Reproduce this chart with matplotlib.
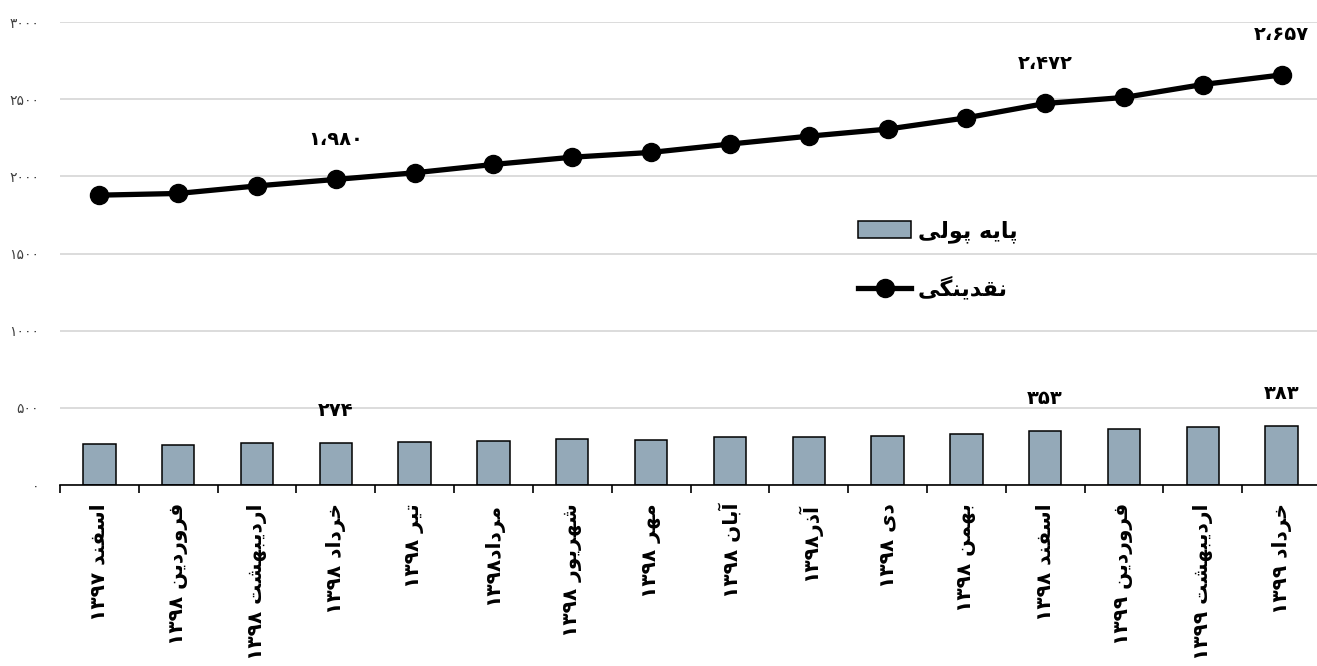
import numpy as np
import matplotlib
matplotlib.use('Agg')
import matplotlib.pyplot as plt
from matplotlib.lines import Line2D
from matplotlib.patches import Patch

plt.rcParams.update({'font.family': 'DejaVu Sans'})

# ── data ──
months = ['اسفند ۱۳۹۷', 'فروردین ۱۳۹۸', 'اردیبهشت ۱۳۹۸', 'خرداد ۱۳۹۸', 'تیر ۱۳۹۸',
          'مرداد۱۳۹۸', 'شهریور ۱۳۹۸', 'مهر ۱۳۹۸', 'آبان ۱۳۹۸', 'آذر۱۳۹۸', 'دی ۱۳۹۸',
          'بهمن ۱۳۹۸', 'اسفند ۱۳۹۸', 'فروردین ۱۳۹۹', 'اردیبهشت ۱۳۹۹', 'خرداد ۱۳۹۹']
base_money = [264, 261, 272, 274, 278, 287, 296, 293, 308, 312, 315, 328, 353, 362, 373, 383]
liquidity = [1878, 1889, 1938, 1980, 2023, 2077, 2124, 2155, 2209, 2260, 2306, 2379,
             2472, 2511, 2595, 2657]
labelled = [3, 12, 15]
yticks = [0, 500, 1000, 1500, 2000, 2500, 3000]
legend_labels = ['پایه پولی', 'نقدینگی']

BAR_COLOR = '#94A9B8'

# ── minimal Persian shaping (no raqm in matplotlib) ──
# (isolated, final, initial, medial) presentation forms
FORMS = {
    'ا': (0xFE8D, 0xFE8E, None, None),
    'آ': (0xFE81, 0xFE82, None, None),
    'ب': (0xFE8F, 0xFE90, 0xFE91, 0xFE92),
    'پ': (0xFB56, 0xFB57, 0xFB58, 0xFB59),
    'ت': (0xFE95, 0xFE96, 0xFE97, 0xFE98),
    'خ': (0xFEA5, 0xFEA6, 0xFEA7, 0xFEA8),
    'د': (0xFEA9, 0xFEAA, None, None),
    'ذ': (0xFEAB, 0xFEAC, None, None),
    'ر': (0xFEAD, 0xFEAE, None, None),
    'س': (0xFEB1, 0xFEB2, 0xFEB3, 0xFEB4),
    'ش': (0xFEB5, 0xFEB6, 0xFEB7, 0xFEB8),
    'ف': (0xFED1, 0xFED2, 0xFED3, 0xFED4),
    'ق': (0xFED5, 0xFED6, 0xFED7, 0xFED8),
    'گ': (0xFB92, 0xFB93, 0xFB94, 0xFB95),
    'ل': (0xFEDD, 0xFEDE, 0xFEDF, 0xFEE0),
    'م': (0xFEE1, 0xFEE2, 0xFEE3, 0xFEE4),
    'ن': (0xFEE5, 0xFEE6, 0xFEE7, 0xFEE8),
    'ه': (0xFEE9, 0xFEEA, 0xFEEB, 0xFEEC),
    'و': (0xFEED, 0xFEEE, None, None),
    'ی': (0xFBFC, 0xFBFD, 0xFBFE, 0xFBFF),
}
FA_DIGITS = '۰۱۲۳۴۵۶۷۸۹'


def fa_num(v, sep=False):
    s = f'{v:,}' if sep else str(v)
    return ''.join(FA_DIGITS[int(c)] if c.isdigit() else '،' for c in s)


def shape(text):
    out = []
    for i, ch in enumerate(text):
        if ch not in FORMS:
            out.append(ch)
            continue
        iso, fin, ini, med = FORMS[ch]
        prev = text[i - 1] if i > 0 else ''
        nxt = text[i + 1] if i + 1 < len(text) else ''
        jp = prev in FORMS and FORMS[prev][2] is not None
        jn = ini is not None and nxt in FORMS
        code = med if (jp and jn) else fin if jp else ini if jn else iso
        out.append(chr(code))
    # digit runs stay left-to-right, the rest is reversed
    runs = []
    for ch in out:
        ltr = ch in FA_DIGITS or ch == '،'
        if runs and runs[-1][0] == ltr:
            runs[-1][1] += ch
        else:
            runs.append([ltr, ch])
    return ''.join(r if ltr else r[::-1] for ltr, r in reversed(runs))


# ── figure ──
W, H = 1317, 666
fig = plt.figure(figsize=(W / 100, H / 100), dpi=100)
ax = fig.add_axes([60 / W, 1 - 485 / H, 1261 / W, 463 / H])

x = np.arange(len(months))
ax.bar(x, base_money, width=0.41, color=BAR_COLOR, edgecolor='black',
       linewidth=1.1, zorder=2)
ax.plot(x, liquidity, color='black', lw=3.8, marker='o', ms=13, zorder=3)

for i in labelled:
    ax.annotate(fa_num(liquidity[i], True), (x[i], liquidity[i]), xytext=(0, 40),
                textcoords='offset pixels', ha='center', va='center',
                fontsize=14, fontweight='bold')
    ax.annotate(fa_num(base_money[i]), (x[i], base_money[i]), xytext=(0, 32),
                textcoords='offset pixels', ha='center', va='center',
                fontsize=14, fontweight='bold')

ax.set_xlim(-0.5, len(months) - 0.5)
ax.set_ylim(0, 3000)
ax.set_yticks(yticks)
ax.set_yticklabels([fa_num(v) for v in yticks], fontsize=10, color='#404040')
ax.yaxis.grid(True, color='#D9D9D9', lw=1.3)
ax.set_axisbelow(True)
ax.tick_params(axis='y', length=0, pad=15)

ax.set_xticks(x)
ax.set_xticklabels([shape(m) for m in months], rotation=90, fontsize=14.5,
                   fontweight='bold')
ax.set_xticks(np.arange(-0.5, len(months)), minor=True)
ax.tick_params(axis='x', which='major', length=0, pad=13)
ax.tick_params(axis='x', which='minor', length=6, width=1.2, direction='out')

for s in ['top', 'right', 'left']:
    ax.spines[s].set_visible(False)
ax.spines['bottom'].set_linewidth(1.2)

handles = [Patch(facecolor=BAR_COLOR, edgecolor='black', lw=1.1),
           Line2D([], [], color='black', lw=3.8, marker='o', ms=13)]
fig.legend(handles, [shape(t) for t in legend_labels], loc='upper left',
           bbox_to_anchor=(858 / W, 1 - 220 / H), frameon=False,
           prop={'weight': 'bold', 'size': 16}, handlelength=2.4,
           handleheight=0.8, handletextpad=0.3, labelspacing=1.5,
           borderpad=0, borderaxespad=0)

fig.savefig('out.png', dpi=100)
